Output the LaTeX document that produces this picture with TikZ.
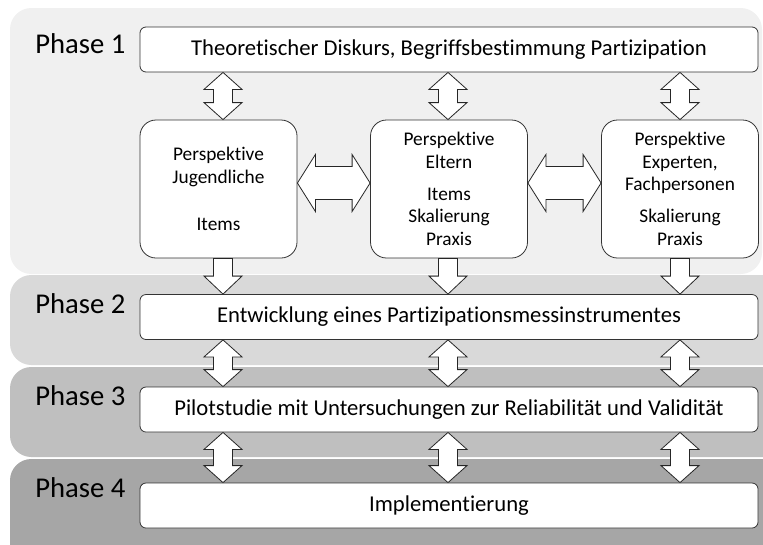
\documentclass[tikz,border=0pt]{standalone}
\usepackage{fontspec}
\setmainfont{Carlito}[Ligatures={NoCommon}]
\usetikzlibrary{calc, positioning}
\definecolor{bandOne}{HTML}{F0F0F0}
\definecolor{bandTwo}{HTML}{D9D9D9}
\definecolor{bandThree}{HTML}{BFBFBF}
\definecolor{bandFour}{HTML}{A6A6A6}
\tikzset{
    phaseBox/.style={draw=black!80, fill=white, rounded corners=4.5pt, line width=0.6pt, minimum width=463.5pt, minimum height=33.75pt, inner sep=0pt, font=\fontsize{17}{20}\selectfont},
    perspBox/.style={draw=black!80, fill=white, rounded corners=12pt, line width=0.6pt, minimum width=117.75pt, minimum height=103.5pt, inner sep=0pt, align=center, font=\fontsize{14.5}{17}\selectfont},
    phaseLabel/.style={anchor=base west, inner sep=0pt, font=\fontsize{21.5}{25}\selectfont},
    blockArrow/.style={draw=black!85, fill=white, line width=0.6pt, line join=miter},
    band/.style={rounded corners=16pt},
}
\newcommand{\drawDblArrowV}[2]{
    % Doppelpfeil senkrecht: #1 oben, #2 unten
    \draw[blockArrow] (#1) -- ($(#1)+(19,17)$) -- ($(#1)+(9.5,17)$) -- ($(#2)+(9.5,-17)$) -- ($(#2)+(19,-17)$) -- (#2)
        -- ($(#2)+(-19,-17)$) -- ($(#2)+(-9.5,-17)$) -- ($(#1)+(-9.5,17)$) -- ($(#1)+(-19,17)$) -- cycle;
}
\newcommand{\drawDblArrowH}[2]{
    % Doppelpfeil waagrecht: #1 links, #2 rechts
    \draw[blockArrow] (#1) -- ($(#1)+(18,-28.5)$) -- ($(#1)+(18,-16.5)$) -- ($(#2)+(-18,-16.5)$) -- ($(#2)+(-18,-28.5)$) -- (#2)
        -- ($(#2)+(-18,28.5)$) -- ($(#2)+(-18,16.5)$) -- ($(#1)+(18,16.5)$) -- ($(#1)+(18,28.5)$) -- cycle;
}
\newcommand{\drawDownArrow}[2]{
    % Pfeil nach unten: #1 Anfang, #2 Spitze
    \draw[blockArrow] ($(#1)+(-9.5,0)$) -- ($(#1)+(9.5,0)$) -- ($(#2)+(9.5,-18)$) -- ($(#2)+(19,-18)$) -- (#2)
        -- ($(#2)+(-19,-18)$) -- ($(#2)+(-9.5,-18)$) -- cycle;
}
\begin{document}
\begin{tikzpicture}[x=0.75pt, y=-0.75pt]

        \useasboundingbox (0,0) rectangle (763,544);
        \clip (0,0) rectangle (763,544);

        % Hintergrund der Phasen
        \fill[band, bandOne] (10,8) rectangle (762,274);
        \fill[band, bandTwo] (10,275) rectangle (790,365);
        \fill[band, bandThree] (10,367) rectangle (790,457);
        \fill[band, bandFour] (10,459) rectangle (790,570);

        \node[phaseLabel] (P1) at (35,53) {Phase 1};
        \node[phaseLabel] (P2) at (35,313) {Phase 2};
        \node[phaseLabel] (P3) at (35,405) {Phase 3};
        \node[phaseLabel] (P4) at (35,497) {Phase 4};

        \node[phaseBox] (T) at (449,49.5) {Theoretischer Diskurs, Begriffsbestimmung Partizipation};
        \node[perspBox] (J) at (218.5,189) {Perspektive\\Jugendliche\\[18.25pt]Items};
        \node[perspBox] (E) at (449,189) {Perspektive\\Eltern\\[7pt]Items\\Skalierung\\Praxis};
        \node[perspBox] (X) at (680,189) {Perspektive\\Experten,\\Fachpersonen\\[7pt]Skalierung\\Praxis};
        \node[phaseBox] (D) at (449,317) {Entwicklung eines Partizipationsmessinstrumentes};
        \node[phaseBox] (S) at (449,409.5) {Pilotstudie mit Untersuchungen zur Reliabilität und Validität};
        \node[phaseBox] (I) at (449,505.5) {Implementierung};

        \coordinate (colA) at (223,0);
        \coordinate (colB) at (448,0);
        \coordinate (colC) at (680,0);

        \drawDblArrowV{colA |- T.south}{colA |- J.north}
        \drawDblArrowV{colB |- T.south}{colB |- E.north}
        \drawDblArrowV{colC |- T.south}{colC |- X.north}

        \drawDblArrowH{$(J.east)+(0,-6)$}{$(E.west)+(0,-6)$}
        \drawDblArrowH{$(E.east)+(0,-6)$}{$(X.west)+(0,-6)$}

        \drawDownArrow{colA |- J.south}{colA |- D.north}
        \drawDownArrow{colB |- E.south}{colB |- D.north}
        \drawDownArrow{colC |- X.south}{colC |- D.north}

        \foreach \c in {colA, colB, colC} {
            \drawDblArrowV{\c |- D.south}{\c |- S.north}
            \drawDblArrowV{\c |- S.south}{\c |- I.north}
        }

    \end{tikzpicture}
\end{document}
